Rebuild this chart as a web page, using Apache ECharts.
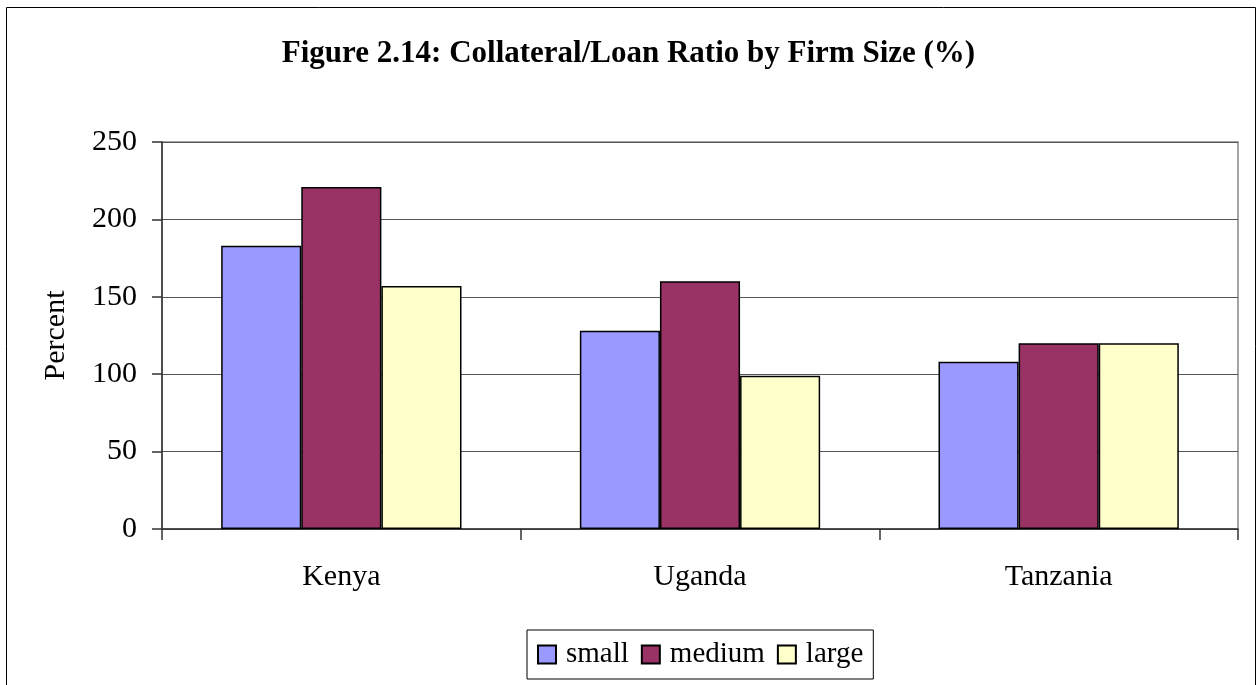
<!DOCTYPE html>
<html>
<head>
<meta charset="utf-8">
<script src="https://cdn.jsdelivr.net/npm/echarts@6/dist/echarts.min.js"></script>
<style>
  html, body { margin: 0; padding: 0; background: #fff; }
  #chart { width: 1257px; height: 685px; }
</style>
</head>
<body>
<div id="chart"></div>
<script>
// Collateral-to-loan ratio (%) by country and firm size
const countries = ['Kenya', 'Uganda', 'Tanzania'];
const small = [183, 128, 108];
const medium = [221, 160, 120];
const large = [157, 99, 120];
const yTicks = { min: 0, max: 250, interval: 50 };

const serif = '"Liberation Serif", "Times New Roman", serif';
const barBorder = { borderColor: '#000', borderWidth: 1.5 };

const chart = echarts.init(document.getElementById('chart'), null, { renderer: 'canvas' });

chart.setOption({
  backgroundColor: '#fff',
  animation: false,
  title: {
    text: 'Figure 2.14: Collateral/Loan Ratio by Firm Size (%)',
    left: 'center',
    top: 33,
    textStyle: { fontFamily: serif, fontWeight: 'bold', fontSize: 31, color: '#000' }
  },
  graphic: [{
    type: 'rect',
    shape: { x: 6.5, y: 7.5, width: 1249, height: 700 },
    style: { fill: null, stroke: '#000', lineWidth: 1 },
    z: -1
  }],
  grid: {
    left: 162, right: 19, top: 142, bottom: 156,
    show: true, borderColor: '#888', borderWidth: 1.5
  },
  legend: {
    left: 527, top: 630,
    itemWidth: 18, itemHeight: 18, itemGap: 12,
    padding: [10, 10, 10, 10],
    borderColor: '#000', borderWidth: 1,
    icon: 'rect',
    textStyle: { fontFamily: serif, fontSize: 29, color: '#000', padding: [0, 0, 0, 5] },
    data: ['small', 'medium', 'large']
  },
  xAxis: {
    type: 'category',
    data: countries,
    axisLine: { lineStyle: { color: '#333', width: 1.5 } },
    axisTick: { show: true, length: 11, lineStyle: { color: '#333', width: 1.5 } },
    axisLabel: { fontFamily: serif, fontSize: 30, color: '#000', margin: 33 }
  },
  yAxis: {
    type: 'value',
    min: yTicks.min, max: yTicks.max, interval: yTicks.interval,
    name: 'Percent',
    nameLocation: 'middle',
    nameGap: 91,
    nameRotate: 90,
    nameTextStyle: { fontFamily: serif, fontSize: 30, color: '#000' },
    axisLine: { show: true, lineStyle: { color: '#333', width: 1.5 } },
    axisTick: { show: true, length: 10, lineStyle: { color: '#333', width: 1.5 } },
    axisLabel: { fontFamily: serif, fontSize: 30, color: '#000', margin: 25 },
    splitLine: { lineStyle: { color: '#555', width: 1 } }
  },
  series: [
    { name: 'small', type: 'bar', data: small, barGap: '0%', barCategoryGap: '33%',
      itemStyle: Object.assign({ color: '#9999FF' }, barBorder) },
    { name: 'medium', type: 'bar', data: medium,
      itemStyle: Object.assign({ color: '#993366' }, barBorder) },
    { name: 'large', type: 'bar', data: large,
      itemStyle: Object.assign({ color: '#FFFFCC' }, barBorder) }
  ]
});
</script>
</body>
</html>
